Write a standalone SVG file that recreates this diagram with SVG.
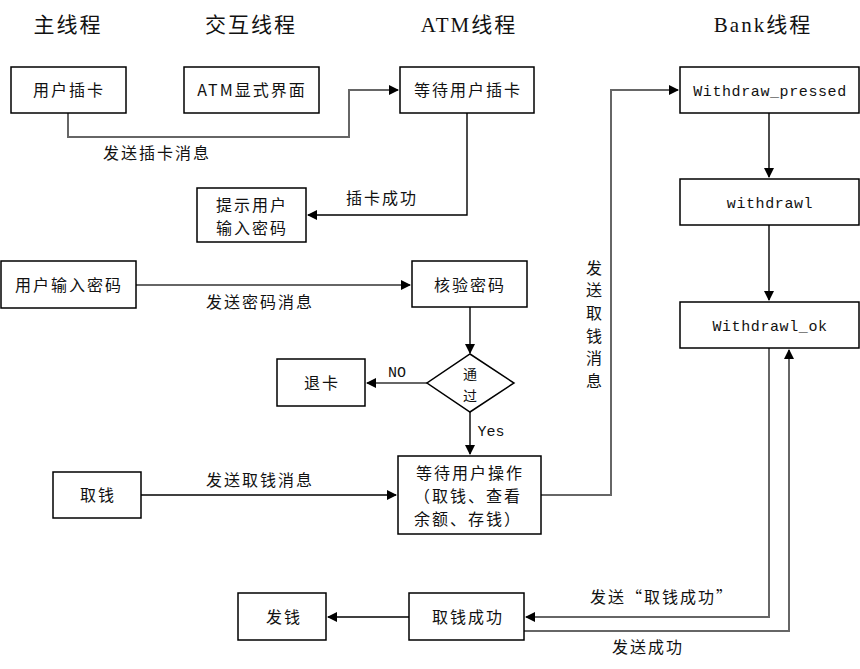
<svg xmlns="http://www.w3.org/2000/svg" width="860" height="669" viewBox="0 0 860 669">
<defs>
<marker id="ah" markerWidth="10" markerHeight="10" refX="9" refY="5" orient="auto" markerUnits="userSpaceOnUse">
<path d="M0,0 L10,5 L0,10 z" fill="#000"/>
</marker>
<style>
.box{fill:#fff;stroke:#000;stroke-width:1.5}
.t{font-family:"Noto Sans CJK SC","Liberation Serif",serif;font-size:16px;letter-spacing:2px;fill:#111;text-anchor:middle}
.d{font-family:"Noto Sans CJK SC","Liberation Serif",serif;font-size:14px;fill:#111;text-anchor:middle}
.h{font-family:"Liberation Serif","Noto Sans CJK SC",serif;font-size:21px;letter-spacing:2px;fill:#111;text-anchor:middle}
.l{font-family:"Liberation Mono","Noto Sans CJK SC",monospace;font-size:15px;fill:#111;text-anchor:middle}
.c{fill:none;stroke:#000;stroke-width:1.4}
.g{fill:none;stroke:#666;stroke-width:2}
</style>
</defs>
<rect width="860" height="669" fill="#fff"/>
<g id="headers">
<text class="h" x="68" y="32">主线程</text>
<text class="h" x="251" y="32">交互线程</text>
<text class="h" x="469" y="32">ATM线程</text>
<text class="h" x="763" y="32">Bank线程</text>
</g>
<g id="connectors">
<polyline class="g" points="68,113 68,137 349,137 349,90 398,90" marker-end="url(#ah)"/>
<polyline class="c" points="467,113 467,215 308,215" marker-end="url(#ah)"/>
<line class="g" x1="136" y1="285" x2="410" y2="285" marker-end="url(#ah)"/>
<line class="c" x1="470" y1="307" x2="470" y2="353" marker-end="url(#ah)"/>
<line class="g" x1="427" y1="383" x2="367" y2="383" marker-end="url(#ah)"/>
<line class="c" x1="470" y1="412" x2="470" y2="454" marker-end="url(#ah)"/>
<line class="c" x1="141" y1="495" x2="396" y2="495" marker-end="url(#ah)"/>
<polyline class="g" points="541,495 611,495 611,90 678,90" marker-end="url(#ah)"/>
<line class="c" x1="769" y1="113" x2="769" y2="177" marker-end="url(#ah)"/>
<line class="c" x1="769" y1="225" x2="769" y2="300" marker-end="url(#ah)"/>
<polyline class="g" points="769,348 769,617 526,617" marker-end="url(#ah)"/>
<polyline class="g" points="524,631 789,631 789,350" marker-end="url(#ah)"/>
<line class="c" x1="409" y1="617" x2="328" y2="617" marker-end="url(#ah)"/>
</g>
<g id="labels">
<text class="t" x="157" y="159">发送插卡消息</text>
<text class="t" x="382" y="204">插卡成功</text>
<text class="t" x="260" y="308">发送密码消息</text>
<text class="l" x="397" y="377">NO</text>
<text class="l" x="491" y="436">Yes</text>
<text class="t" x="260" y="486">发送取钱消息</text>
<g class="t">
<text x="595" y="274">发</text>
<text x="595" y="296">送</text>
<text x="595" y="319">取</text>
<text x="595" y="342">钱</text>
<text x="595" y="364">消</text>
<text x="595" y="387">息</text>
</g>
<text class="t" x="662" y="603">发送“取钱成功”</text>
<text class="t" x="648" y="653">发送成功</text>
</g>
<g id="n1"><rect class="box" x="11" y="67" width="115" height="46"/><text class="t" x="69" y="96">用户插卡</text></g>
<g id="n2"><rect class="box" x="184" y="67" width="135" height="46"/><text class="t" x="252" y="96">ATM显式界面</text></g>
<g id="n3"><rect class="box" x="400" y="67" width="134" height="46"/><text class="t" x="468" y="96">等待用户插卡</text></g>
<g id="n4"><rect class="box" x="680" y="67" width="179" height="46"/><text class="l" x="770" y="96" letter-spacing="0.6">Withdraw_pressed</text></g>
<g id="n5"><rect class="box" x="680" y="179" width="179" height="46"/><text class="l" x="770" y="208" letter-spacing="0.6">withdrawl</text></g>
<g id="n6"><rect class="box" x="680" y="302" width="179" height="46"/><text class="l" x="770" y="331" letter-spacing="0.6">Withdrawl_ok</text></g>
<g id="n7"><rect class="box" x="197" y="188" width="109" height="54"/><text class="t" x="252" y="211">提示用户</text><text class="t" x="252" y="234">输入密码</text></g>
<g id="n8"><rect class="box" x="1" y="261" width="135" height="47"/><text class="t" x="69" y="291">用户输入密码</text></g>
<g id="n9"><rect class="box" x="412" y="261" width="115" height="46"/><text class="t" x="470" y="291">核验密码</text></g>
<g id="n10"><polygon class="box" points="470,354 514,383 470,412 427,383" stroke-width="1.2"/><text class="d" x="470" y="379">通</text><text class="d" x="470" y="401">过</text></g>
<g id="n11"><rect class="box" x="277" y="359" width="88" height="47"/><text class="t" x="322" y="389">退卡</text></g>
<g id="n12"><rect class="box" x="53" y="472" width="88" height="46"/><text class="t" x="98" y="501">取钱</text></g>
<g id="n13"><rect class="box" x="398" y="456" width="143" height="78"/><text class="t" x="470" y="479">等待用户操作</text><text class="t" x="468" y="502">（取钱、查看</text><text class="t" x="468" y="525">余额、存钱）</text></g>
<g id="n14"><rect class="box" x="238" y="593" width="88" height="47"/><text class="t" x="284" y="623">发钱</text></g>
<g id="n15"><rect class="box" x="409" y="593" width="115" height="47"/><text class="t" x="468" y="623">取钱成功</text></g>
</svg>
